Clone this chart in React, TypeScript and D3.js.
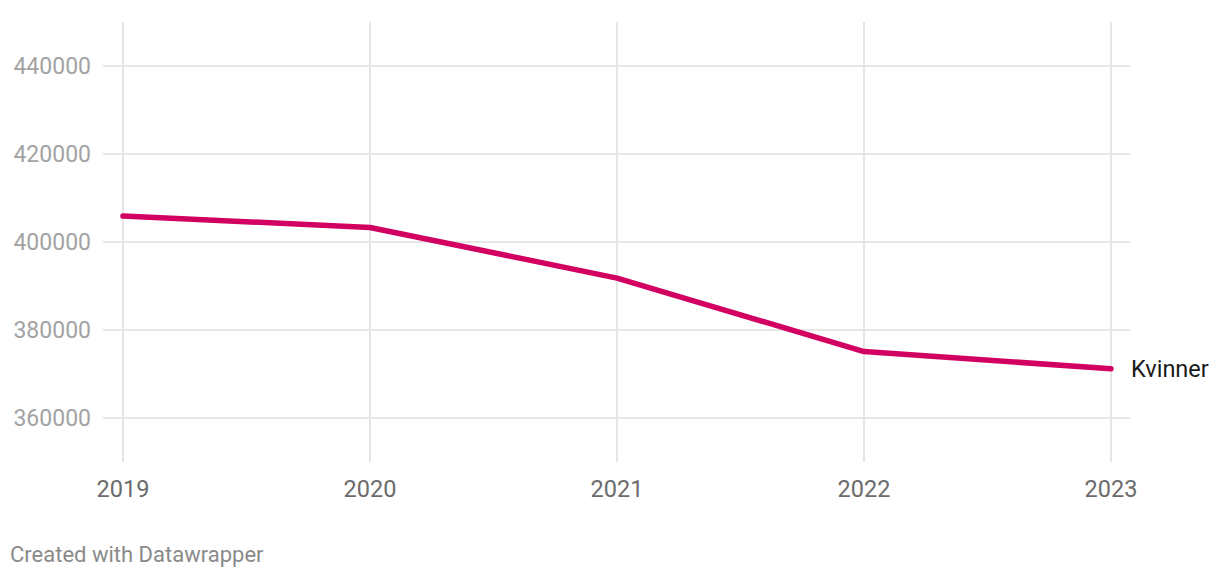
import { scaleLinear, scalePoint, line } from "d3";

const years = ["2019", "2020", "2021", "2022", "2023"];
const kvinner = [405900, 403300, 391800, 375100, 371200];
const yTicks = [360000, 380000, 400000, 420000, 440000];
const seriesLabel = "Kvinner";

const W = 1220;
const H = 578;
const FONT = "Roboto, 'Noto Sans', sans-serif";

export default function App() {
  const x = scalePoint<string>().domain(years).range([123, 1111]);
  const y = scaleLinear().domain([350000, 450000]).range([462, 22]);

  const path = line<number>()
    .x((_, i) => x(years[i])!)
    .y((d) => y(d))(kvinner);

  const last = kvinner[kvinner.length - 1];

  return (
    <div style={{ position: "absolute", left: 0, top: 0 }}>
      <svg width={W} height={H} style={{ display: "block", background: "#fff" }}>
        {/* vertical grid */}
        {years.map((yr) => (
          <line key={yr} x1={x(yr)} x2={x(yr)} y1={22} y2={462} stroke="#e6e6e6" strokeWidth={2} />
        ))}
        {/* horizontal grid */}
        {yTicks.map((t) => (
          <line key={t} x1={103} x2={1130} y1={y(t)} y2={y(t)} stroke="#e6e6e6" strokeWidth={2} />
        ))}
        {/* y labels */}
        {yTicks.map((t) => (
          <text key={t} x={91} y={y(t)} dy="0.35em" textAnchor="end" fontFamily={FONT} fontSize={23} fill="#a3a3a3">
            {t}
          </text>
        ))}
        {/* x labels */}
        {years.map((yr) => (
          <text key={yr} x={x(yr)} y={497} textAnchor="middle" fontFamily={FONT} fontSize={23.5} fill="#6b6b6b">
            {yr}
          </text>
        ))}
        <path d={path ?? ""} fill="none" stroke="#d20061" strokeWidth={5.5} strokeLinecap="round" strokeLinejoin="round" />
        <text x={1131} y={y(last)} dy="0.35em" fontFamily={FONT} fontSize={23.5} fill="#1a1a1a">
          {seriesLabel}
        </text>
        <text x={10} y={562} fontFamily={FONT} fontSize={22} fill="#8a8a8a">
          Created with Datawrapper
        </text>
      </svg>
    </div>
  );
}
